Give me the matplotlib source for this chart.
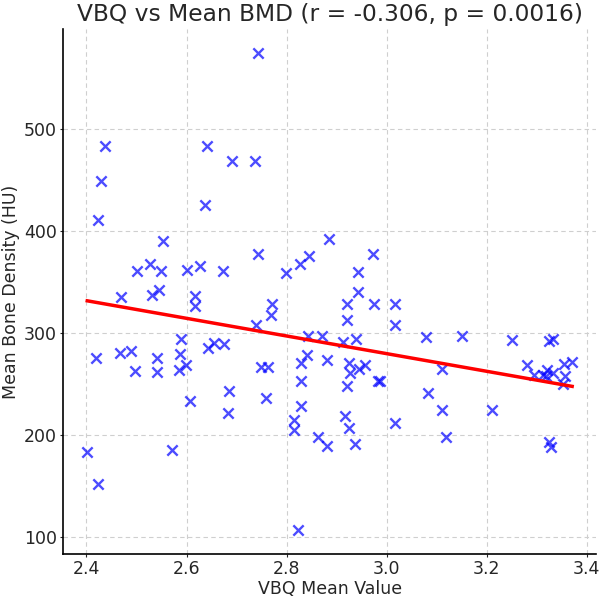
import numpy as np
import matplotlib
matplotlib.use("Agg")
import matplotlib.pyplot as plt

vbq = [2.743, 2.437, 2.430, 2.4236, 2.640, 2.6915, 2.7374, 2.6377, 2.552, 2.7426,
       2.5013, 2.528, 2.5486, 2.6018, 2.6263, 2.6728, 2.4688, 2.532, 2.5452, 2.6164,
       2.6177, 2.738, 2.5898, 2.419, 2.4668, 2.4887, 2.542, 2.5864, 2.6429, 2.6542,
       2.6748, 2.4967, 2.5412, 2.585, 2.5984, 2.7486, 2.7625, 2.6064, 2.6842, 2.6828,
       2.4016, 2.4235, 2.5719, 2.8842, 2.9719, 2.7992, 2.8277, 2.8457, 2.9426, 2.942,
       2.7713, 2.768, 2.92, 2.9739, 3.0171, 2.92, 3.0171, 2.8423, 2.871, 2.912,
       2.9388, 3.0796, 2.841, 2.8291, 2.881, 2.924, 2.9274, 2.944, 2.957, 2.983,
       2.986, 2.8297, 2.9204, 2.7579, 2.8297, 3.083, 2.8144, 2.8144, 2.9175, 2.9254,
       2.9374, 2.8636, 2.8802, 3.0171, 2.8224, 3.1502, 3.2495, 3.325, 3.3322, 3.1103,
       3.1103, 3.2112, 3.1195, 3.281, 3.295, 3.312, 3.3209, 3.3176, 3.3315, 3.3541,
       3.3707, 3.356, 3.3515, 3.3252, 3.3292]
bmd = [574.5, 483.7, 449.2, 410.4, 483.7, 468.8, 468.8, 426.0, 390.0, 377.5,
       360.6, 367.8, 360.6, 361.6, 366.2, 361.3, 335.3, 336.9, 342.0, 336.2,
       326.5, 308.2, 294.0, 275.4, 280.9, 282.5, 276.0, 279.3, 285.7, 290.0,
       289.6, 263.0, 262.0, 263.7, 268.6, 267.2, 267.2, 233.7, 243.5, 221.7,
       183.2, 151.7, 184.9, 392.6, 377.5, 359.0, 367.8, 375.3, 360.0, 340.0,
       328.7, 317.7, 328.1, 328.7, 328.7, 312.8, 307.9, 297.2, 297.5, 291.0,
       294.5, 296.5, 278.5, 270.3, 274.0, 271.1, 261.0, 264.6, 268.6, 252.5,
       252.5, 252.5, 248.5, 235.9, 228.5, 241.5, 214.5, 205.0, 218.5, 206.8,
       191.4, 197.9, 189.7, 212.0, 106.7, 297.2, 293.2, 292.0, 294.0, 264.6,
       224.6, 224.6, 198.5, 268.4, 258.6, 259.0, 264.0, 258.1, 261.0, 270.0,
       271.8, 258.1, 250.0, 193.0, 188.5]

title = "VBQ vs Mean BMD (r = -0.306, p = 0.0016)"
xlabel = "VBQ Mean Value"
ylabel = "Mean Bone Density (HU)"

x = np.array(vbq)
y = np.array(bmd)

fig = plt.figure(figsize=(6.0, 5.99), dpi=100)
ax = fig.add_axes([0.105, 0.0751, 0.889, 0.876])

ax.scatter(x, y, marker='x', s=55, color='blue', alpha=0.7, linewidths=1.7, zorder=3)
m, b = np.polyfit(x, y, 1)
xs = np.array([x.min(), x.max()])
ax.plot(xs, m * xs + b, color='red', linewidth=2.5, zorder=4)

ax.set_title(title, fontsize=16.8, color='#262626', pad=6)
ax.set_xlabel(xlabel, fontsize=12.5, color='#262626', labelpad=1)
ax.set_ylabel(ylabel, fontsize=12.5, color='#262626', labelpad=3)
ax.tick_params(labelsize=12.5, colors='#262626', direction='out', length=2.5, pad=2)
ax.set_xticks([2.4, 2.6, 2.8, 3.0, 3.2, 3.4])
ax.set_yticks([100, 200, 300, 400, 500])
ax.grid(True, linestyle=(0, (4, 3)), color='#cfcfcf', linewidth=0.8)
ax.set_axisbelow(True)
ax.spines['top'].set_visible(False)
ax.spines['right'].set_visible(False)
ax.spines['left'].set_linewidth(1.2)
ax.spines['bottom'].set_linewidth(1.2)

fig.savefig("out.png", dpi=100)
